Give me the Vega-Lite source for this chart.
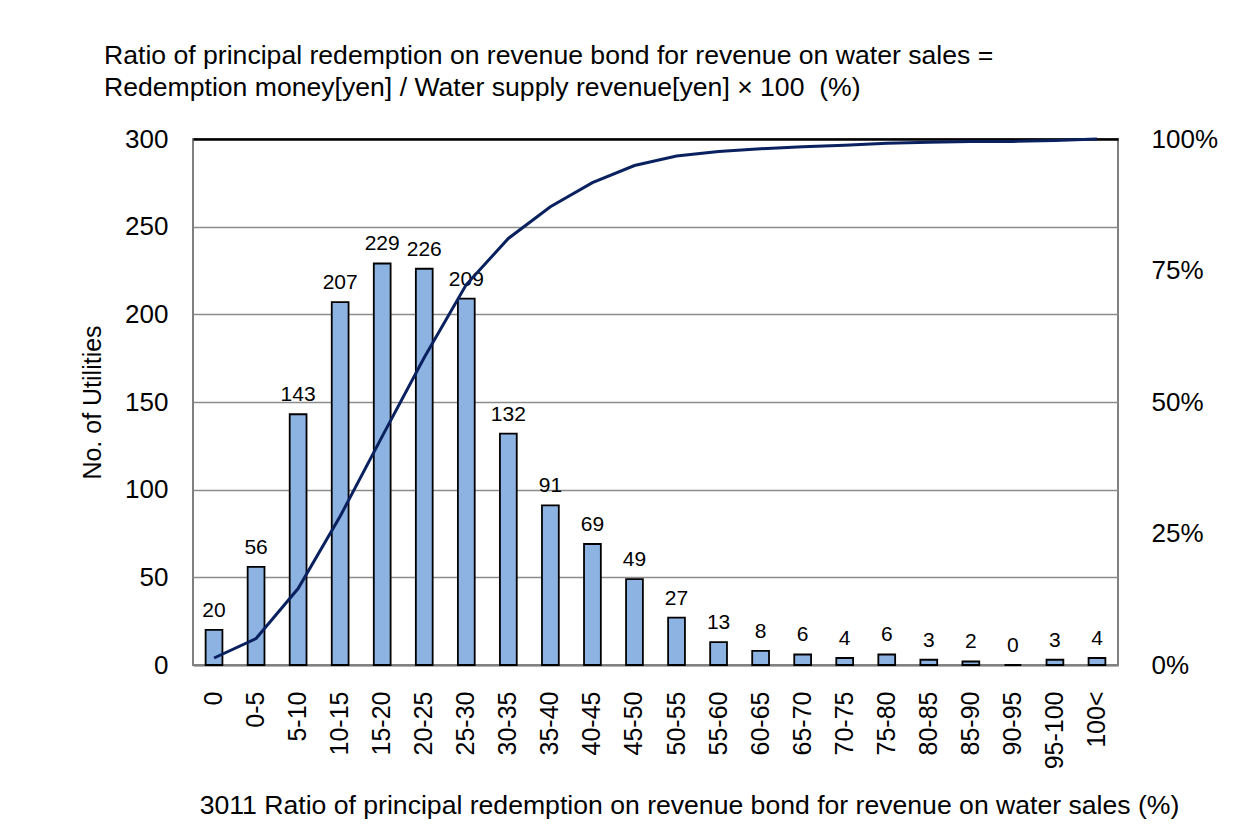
{
  "$schema": "https://vega.github.io/schema/vega-lite/v6.json",
  "width": 925,
  "height": 526,
  "autosize": {"type": "none"},
  "padding": {"left": 193, "top": 139, "right": 139, "bottom": 169},
  "background": "white",
  "config": {
    "font": "Liberation Sans",
    "view": {"stroke": "#808080", "strokeWidth": 2},
    "axis": {"labelColor": "black", "titleColor": "black", "labelFont": "Liberation Sans", "titleFont": "Liberation Sans", "titleFontWeight": "normal"}
  },
  "title": {
    "text": ["Ratio of principal redemption on revenue bond for revenue on water sales =", "Redemption money[yen] / Water supply revenue[yen] × 100\u00a0 (%)"],
    "anchor": "start",
    "frame": "group",
    "dx": -89,
    "offset": 24,
    "fontSize": 26.6,
    "fontWeight": "normal",
    "font": "Liberation Sans",
    "lineHeight": 32,
    "color": "black"
  },
  "data": {
    "values": [
      {"cat": "0", "n": 20, "cum": 0.0133},
      {"cat": "0-5", "n": 56, "cum": 0.0504},
      {"cat": "5-10", "n": 143, "cum": 0.1453},
      {"cat": "10-15", "n": 207, "cum": 0.2827},
      {"cat": "15-20", "n": 229, "cum": 0.4346},
      {"cat": "20-25", "n": 226, "cum": 0.5846},
      {"cat": "25-30", "n": 209, "cum": 0.7233},
      {"cat": "30-35", "n": 132, "cum": 0.8109},
      {"cat": "35-40", "n": 91, "cum": 0.8713},
      {"cat": "40-45", "n": 69, "cum": 0.9171},
      {"cat": "45-50", "n": 49, "cum": 0.9496},
      {"cat": "50-55", "n": 27, "cum": 0.9675},
      {"cat": "55-60", "n": 13, "cum": 0.9761},
      {"cat": "60-65", "n": 8, "cum": 0.9814},
      {"cat": "65-70", "n": 6, "cum": 0.9854},
      {"cat": "70-75", "n": 4, "cum": 0.9881},
      {"cat": "75-80", "n": 6, "cum": 0.9920},
      {"cat": "80-85", "n": 3, "cum": 0.9940},
      {"cat": "85-90", "n": 2, "cum": 0.9954},
      {"cat": "90-95", "n": 0, "cum": 0.9954},
      {"cat": "95-100", "n": 3, "cum": 0.9973},
      {"cat": "100<", "n": 4, "cum": 1.0}
    ]
  },
  "encoding": {
    "x": {
      "field": "cat",
      "type": "nominal",
      "sort": null,
      "scale": {"paddingInner": 0.6, "paddingOuter": 0.3},
      "axis": {
        "title": "3011 Ratio of principal redemption on revenue bond for revenue on water sales (%)",
        "titleFontSize": 26.6,
        "titlePadding": 24,
        "titleX": 496,
        "labelAngle": -90,
        "labelFontSize": 25,
        "labelPadding": 26,
        "labelAlign": "right",
        "labelBaseline": "middle",
        "ticks": false,
        "domain": true,
        "domainColor": "#808080",
        "domainWidth": 2
      }
    }
  },
  "layer": [
    {
      "mark": {"type": "bar", "fill": "#8DB3E2", "stroke": "black", "strokeWidth": 1.8},
      "encoding": {
        "y": {
          "field": "n",
          "type": "quantitative",
          "scale": {"domain": [0, 300], "nice": false},
          "axis": {
            "title": "No. of Utilities",
            "titleFontSize": 25,
            "titlePadding": 19,
            "labelFontSize": 26,
            "labelPadding": 25,
            "values": [0, 50, 100, 150, 200, 250, 300],
            "ticks": false,
            "domain": false,
            "grid": true,
            "gridColor": {"condition": {"test": "datum.value === 300", "value": "black"}, "value": "#8c8c8c"},
            "gridWidth": {"condition": {"test": "datum.value === 300", "value": 2.5}, "value": 1.5}
          }
        }
      }
    },
    {
      "mark": {"type": "text", "baseline": "alphabetic", "dy": -13, "fontSize": 21, "color": "black", "font": "Liberation Sans"},
      "encoding": {
        "y": {"field": "n", "type": "quantitative", "scale": {"domain": [0, 300], "nice": false}, "axis": null},
        "text": {"field": "n", "type": "quantitative"}
      }
    },
    {
      "mark": {"type": "line", "color": "#0A215F", "strokeWidth": 3},
      "encoding": {
        "y": {
          "field": "cum",
          "type": "quantitative",
          "scale": {"domain": [0, 1], "nice": false},
          "axis": {
            "orient": "right",
            "title": null,
            "format": ".0%",
            "values": [0, 0.25, 0.5, 0.75, 1],
            "labelFontSize": 26,
            "labelPadding": 33,
            "ticks": false,
            "domain": false,
            "grid": false
          }
        }
      }
    }
  ],
  "resolve": {"scale": {"y": "independent"}}
}
